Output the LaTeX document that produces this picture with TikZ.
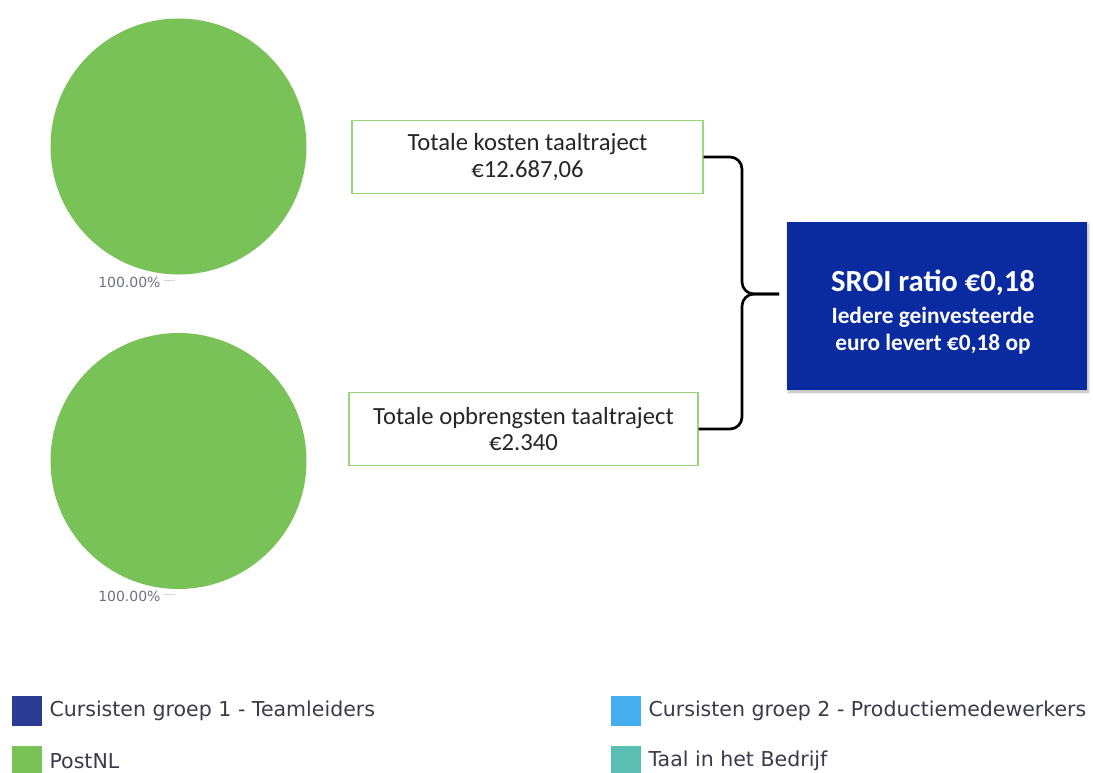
\documentclass[tikz,border=0pt]{standalone}
\usepackage{fontspec}
\setmainfont{Carlito}
\newfontfamily\legendfont{DejaVu Sans}
\usepackage{xcolor}
\usepackage{tikz}
\usetikzlibrary{
  arrows.meta,
  positioning,
  shadows.blur
}
\definecolor{piegreen}{HTML}{78C257}
\definecolor{boxgreen}{HTML}{98D67C}
\definecolor{sroiblue}{HTML}{0A2B9F}
\definecolor{groupblue}{HTML}{2B3A93}
\definecolor{grouplight}{HTML}{44AEEE}
\definecolor{taalteal}{HTML}{5ABFB2}
\definecolor{labelgray}{HTML}{6B7182}
\definecolor{legendtext}{HTML}{3A3A4A}

\begin{document}
\begin{tikzpicture}[
  x=0.75pt, y=-0.75pt,
  pie/.style={circle, fill=piegreen, minimum size=192pt, inner sep=0pt},
  pctlabel/.style={font=\legendfont\fontsize{10.5}{12}\selectfont, text=labelgray, anchor=west, inner sep=0pt},
  gbox/.style={
    draw=boxgreen, line width=1.1pt, fill=white, minimum width=263pt, minimum height=55pt,
    align=center, font=\fontsize{18.5}{20}\selectfont, text=black!85,
  },
  sbox/.style={
    fill=sroiblue, minimum width=225pt, minimum height=126pt,
    blur shadow={shadow xshift=1pt, shadow yshift=-1.5pt, shadow blur steps=4, shadow opacity=30},
  },
  stext/.style={align=center, text=white, font=\bfseries, inner sep=0pt},
  brace/.style={line width=2pt, rounded corners=9pt},
  swatch/.style={minimum size=23pt, inner sep=0pt},
  legtext/.style={font=\legendfont\fontsize{15.4}{17}\selectfont, text=legendtext, anchor=west, inner sep=0pt},
]
\useasboundingbox (0,0) rectangle (1093,772);

% pies
\node[pie] (kostenpie) at (178.5,146.5) {};
\node[pie] (opbrengstpie) at (178.5,461) {};
\node[pctlabel] (kostenpct) at (98,282) {100.00\%};
\node[pctlabel] (opbrengstpct) at (98,596) {100.00\%};
\draw[labelgray!30, thin] (kostenpct.east) ++(3,-2) -- ++(11,0);
\draw[labelgray!30, thin] (opbrengstpct.east) ++(3,-2) -- ++(11,0);

% boxes
\node[gbox] (kosten) at (527.5,157) {Totale kosten taaltraject\\€12.687,06};
\node[gbox, minimum width=261.75pt] (opbrengsten) at (523.5,429) {Totale opbrengsten taaltraject\\€2.340};
\node[sbox] (sroi) at (937,306) {};
\node[stext] (sroitext) at (933,312) {\fontsize{23}{24}\selectfont SROI ratio €0,18\\[7pt]
  \fontsize{17.5}{18}\selectfont Iedere geinvesteerde\\[4pt]\fontsize{17.5}{18}\selectfont euro levert €0,18 op};

% brace
\coordinate (bracetip) at (779,294);
\draw[brace] (kosten.east) -| (742,294) -- (bracetip);
\draw[brace] (opbrengsten.east) -| (742,294) -- (bracetip);

% legend
\node[swatch, fill=groupblue] (groep1) at (27,711) {};
\node[legtext, right=5pt of groep1] (groep1txt) {Cursisten groep 1 - Teamleiders};
\node[swatch, fill=piegreen] (postnl) at (27,761) {};
\node[legtext, right=5pt of postnl] (postnltxt) {PostNL};
\node[swatch, fill=grouplight] (groep2) at (626,711) {};
\node[legtext, right=5pt of groep2] (groep2txt) {Cursisten groep 2 - Productiemedewerkers};
\node[swatch, fill=taalteal] (taal) at (626,761) {};
\node[legtext, right=5pt of taal] (taaltxt) {Taal in het Bedrijf};

\end{tikzpicture}
\end{document}
